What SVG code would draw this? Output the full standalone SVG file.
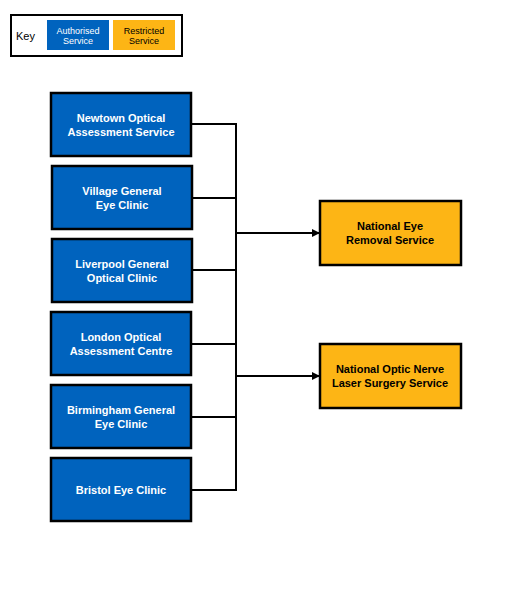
<svg xmlns="http://www.w3.org/2000/svg" width="508" height="592" viewBox="0 0 508 592">
<style>
.a{fill:#0063be;stroke:#000;stroke-width:2.5}
.r{fill:#fdb515;stroke:#000;stroke-width:2.5}
.t{font-family:"Liberation Sans",Arial,sans-serif;font-size:11px;font-weight:bold;text-anchor:middle}
.w{fill:#fff}
.k{fill:#000}
.c{stroke:#000;stroke-width:2;fill:none}
.ks{font-family:"Liberation Sans",Arial,sans-serif;font-size:9px;text-anchor:middle}
</style>
<defs>
<marker id="ah" markerWidth="8" markerHeight="8" refX="7" refY="4" orient="auto" markerUnits="userSpaceOnUse">
<path d="M0,0 L8,4 L0,8 Z" fill="#000"/>
</marker>
</defs>
<rect width="508" height="592" fill="#fff"/>
<g id="key">
<rect x="11" y="15" width="171" height="41" fill="#fff" stroke="#000" stroke-width="2"/>
<text x="16" y="40" font-family="Liberation Sans,Arial,sans-serif" font-size="11" fill="#000">Key</text>
<rect x="47" y="20" width="62" height="30" fill="#0063be"/>
<text class="ks" x="78" y="34" fill="#fff">Authorised</text>
<text class="ks" x="78" y="44" fill="#fff">Service</text>
<rect x="113" y="20" width="62" height="30" fill="#fdb515"/>
<text class="ks" x="144" y="34" fill="#000">Restricted</text>
<text class="ks" x="144" y="44" fill="#000">Service</text>
</g>
<g id="connectors">
<path class="c" d="M236,123 V491"/>
<path class="c" d="M191,124 H236 M192,198 H236 M192,270 H236 M191,344 H236 M191,417 H236 M191,490 H236"/>
<path class="c" d="M236,233 H319" marker-end="url(#ah)"/>
<path class="c" d="M236,376 H319" marker-end="url(#ah)"/>
</g>
<g id="newtown">
<rect class="a" x="51" y="93" width="140" height="63"/>
<text class="t w" x="121" y="122">Newtown Optical</text>
<text class="t w" x="121" y="136">Assessment Service</text>
</g>
<g id="village">
<rect class="a" x="52" y="166" width="140" height="63"/>
<text class="t w" x="122" y="195">Village General</text>
<text class="t w" x="122" y="209">Eye Clinic</text>
</g>
<g id="liverpool">
<rect class="a" x="52" y="239" width="140" height="63"/>
<text class="t w" x="122" y="268">Liverpool General</text>
<text class="t w" x="122" y="282">Optical Clinic</text>
</g>
<g id="london">
<rect class="a" x="51" y="312" width="140" height="63"/>
<text class="t w" x="121" y="341">London Optical</text>
<text class="t w" x="121" y="355">Assessment Centre</text>
</g>
<g id="birmingham">
<rect class="a" x="51" y="385" width="140" height="63"/>
<text class="t w" x="121" y="414">Birmingham General</text>
<text class="t w" x="121" y="428">Eye Clinic</text>
</g>
<g id="bristol">
<rect class="a" x="51" y="458" width="140" height="63"/>
<text class="t w" x="121" y="494">Bristol Eye Clinic</text>
</g>
<g id="eye-removal">
<rect class="r" x="320" y="201" width="141" height="64"/>
<text class="t k" x="390" y="230">National Eye</text>
<text class="t k" x="390" y="244">Removal Service</text>
</g>
<g id="optic-nerve">
<rect class="r" x="320" y="344" width="141" height="64"/>
<text class="t k" x="390" y="373">National Optic Nerve</text>
<text class="t k" x="390" y="387">Laser Surgery Service</text>
</g>
</svg>
